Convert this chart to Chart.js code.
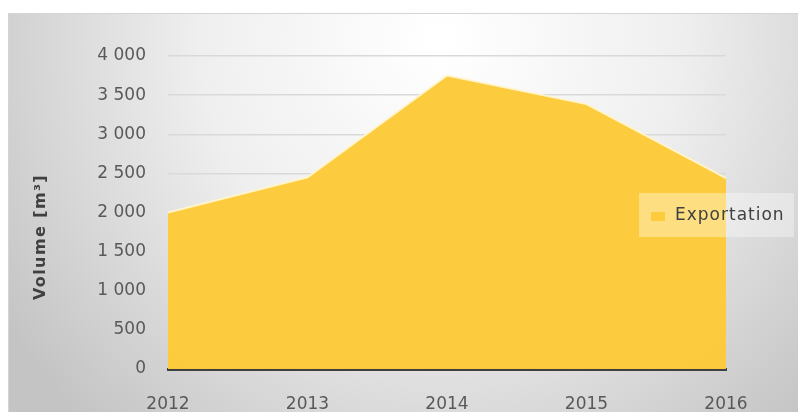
<!DOCTYPE html>
<html>
<head>
<meta charset="utf-8">
<script src="https://cdn.jsdelivr.net/npm/chart.js@4/dist/chart.umd.min.js"></script>
<style>
  html, body { margin: 0; padding: 0; background: #fff; }
  #wrap { width: 798px; height: 412px; }
</style>
</head>
<body>
<div id="wrap"><canvas id="chart" width="798" height="412"></canvas></div>
<script>
// ── Data ────────────────────────────────────────────────────────────────────
const years       = ['2012', '2013', '2014', '2015', '2016'];
const exportation = [2000, 2450, 3750, 3385, 2440];
const yMin = 0, yMax = 4000, yStep = 500;
const yTitle = 'Volume [m³]';

const FONT = 'DejaVu Sans, sans-serif';
const TEXT = '#595959';

// ── Chart box background (radial grey gradient) ─────────────────────────────
const backgroundPlugin = {
  id: 'bg',
  beforeDraw(chart) {
    const { ctx, width, height } = chart;
    ctx.save();
    ctx.fillStyle = '#fff';
    ctx.fillRect(0, 0, width, height);
    const g = ctx.createRadialGradient(440, 40, 10, 440, 40, 520);
    g.addColorStop(0, '#ffffff');
    g.addColorStop(0.45, '#efefef');
    g.addColorStop(1, '#c4c4c4');
    ctx.fillStyle = g;
    ctx.fillRect(8, 13, width - 8, height - 13);
    ctx.strokeStyle = '#d4d4d4';
    ctx.lineWidth = 1;
    ctx.beginPath();
    ctx.moveTo(8.5, height);
    ctx.lineTo(8.5, 13.5);
    ctx.lineTo(width, 13.5);
    ctx.stroke();
    ctx.restore();
  }
};

// ── Y axis title + legend drawn in place ──────────────────────────────────
const labelsPlugin = {
  id: 'labels',
  afterDraw(chart) {
    const { ctx } = chart;
    const ds = chart.data.datasets[0];
    ctx.save();
    // y axis title, centred a bit below the plot centre like the original
    ctx.translate(41, 237);
    ctx.rotate(-Math.PI / 2);
    ctx.letterSpacing = '1.4px';
    ctx.fillStyle = '#404040';
    ctx.font = 'bold 16px ' + FONT;
    ctx.textAlign = 'center';
    ctx.textBaseline = 'middle';
    ctx.fillText(yTitle, 0, 0);
    ctx.restore();

    ctx.save();
    ctx.fillStyle = 'rgba(255,255,255,0.35)';
    ctx.fillRect(639, 193, 155, 44);
    ctx.fillStyle = ds.backgroundColor;
    ctx.fillRect(651, 212, 14, 9);
    ctx.letterSpacing = '1px';
    ctx.fillStyle = '#404040';
    ctx.font = '17px ' + FONT;
    ctx.textBaseline = 'middle';
    ctx.fillText(ds.label, 675, 216);
    ctx.restore();
  }
};

function spaced(v) {
  return String(v).replace(/\B(?=(\d{3})+(?!\d))/g, ' ');
}

new Chart(document.getElementById('chart'), {
  type: 'line',
  data: {
    labels: years,
    datasets: [{
      label: 'Exportation',
      data: exportation,
      fill: 'origin',
      backgroundColor: 'rgba(252,203,58,0.98)',
      borderColor: 'rgba(255,244,205,0.95)',
      borderWidth: 2,
      pointRadius: 0,
      tension: 0
    }]
  },
  options: {
    responsive: false,
    animation: false,
    layout: { padding: { left: 20, right: 72, top: 56, bottom: 0 } },
    plugins: {
      legend: { display: false },
      tooltip: { enabled: false }
    },
    scales: {
      x: {
        offset: false,
        grid: { display: false, drawTicks: false },
        border: { display: true, color: '#404040', width: 3 },
        ticks: { color: TEXT, font: { family: FONT, size: 17 }, padding: 25, maxRotation: 0 },
        afterFit(scale) { scale.height = 43; }
      },
      y: {
        min: yMin,
        max: yMax,
        grid: { color: '#d9d9d9', lineWidth: 1.5, drawTicks: false },
        border: { display: false },
        ticks: {
          stepSize: yStep,
          color: TEXT,
          font: { family: FONT, size: 17 },
          padding: 22,
          callback: v => spaced(v)
        },
        afterFit(scale) { scale.width = 148; }
      }
    }
  },
  plugins: [backgroundPlugin, labelsPlugin]
});
</script>
</body>
</html>
